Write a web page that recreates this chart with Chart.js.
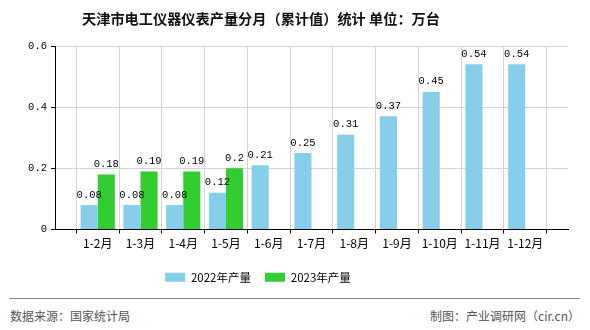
<!DOCTYPE html>
<html>
<head>
<meta charset="utf-8">
<script src="https://cdn.jsdelivr.net/npm/chart.js@4"></script>
<style>
  html, body { margin: 0; padding: 0; background: #fff; }
  #wrap { position: relative; width: 590px; height: 330px; overflow: hidden; }
  #title {
    position: absolute; left: 0; top: 8px; width: 522px; text-align: center;
    font: bold 14.2px "Noto Sans CJK SC", sans-serif; color: #111;
  }
  #chartBox { position: absolute; left: 0; top: 0; width: 590px; height: 295px; }
  #rule { position: absolute; left: 9px; top: 298px; width: 571px; height: 1px; background: #888; }
  .foot { position: absolute; top: 307px; font: 12px "Noto Sans CJK SC", sans-serif; color: #555; }
</style>
</head>
<body>
<div id="wrap">
  <div id="chartBox"><canvas id="chart" width="590" height="295"></canvas></div>
  <div id="title">天津市电工仪器仪表产量分月（累计值）统计 单位：万台</div>
  <div id="rule"></div>
  <div class="foot" style="left:10px">数据来源：国家统计局</div>
  <div class="foot" style="right:10px">制图：产业调研网（cir.cn）</div>
</div>
<script>
// categories (blank slots at both ends keep the axis layout of the original)
const months = ['', '1-2月', '1-3月', '1-4月', '1-5月', '1-6月', '1-7月', '1-8月', '1-9月', '1-10月', '1-11月', '1-12月', ''];
const output2022 = [null, 0.08, 0.08, 0.08, 0.12, 0.21, 0.25, 0.31, 0.37, 0.45, 0.54, 0.54, null];
const output2023 = [null, 0.18, 0.19, 0.19, 0.2, null, null, null, null, null, null, null, null];
const yTicks = [0, 0.2, 0.4, 0.6];

// value text above each bar
const valueLabels = {
  id: 'valueLabels',
  afterDatasetsDraw(chart) {
    const ctx = chart.ctx;
    ctx.save();
    ctx.font = '10.5px "Liberation Mono", monospace';
    ctx.fillStyle = '#000';
    ctx.textAlign = 'center';
    ctx.textBaseline = 'bottom';
    chart.data.datasets.forEach((ds, i) => {
      chart.getDatasetMeta(i).data.forEach((bar, j) => {
        const v = ds.data[j];
        if (v == null) return;
        ctx.fillText(String(v), bar.x, bar.y - 5);
      });
    });
    ctx.restore();
  }
};

// the legend in the original sits left of centre, under the title
const legendShift = {
  id: 'legendShift',
  afterLayout(chart) {
    chart.legend.right -= 52;
  }
};

new Chart(document.getElementById('chart'), {
  type: 'bar',
  data: {
    labels: months,
    datasets: [
      { label: '2022年产量', data: output2022, backgroundColor: '#87ceeb' },
      { label: '2023年产量', data: output2023, backgroundColor: '#33cc33' }
    ]
  },
  options: {
    responsive: false,
    animation: false,
    layout: { padding: { left: 0, right: 22, top: 46, bottom: 2 } },
    datasets: { bar: { categoryPercentage: 0.8, barPercentage: 1.0 } },
    scales: {
      x: {
        offset: false,
        grid: { color: '#d3d3d3', tickColor: '#000', tickLength: 4 },
        border: { color: '#000' },
        ticks: {
          autoSkip: false, maxRotation: 0, padding: 3, color: '#000',
          font: { family: '"Noto Sans CJK SC", sans-serif', size: 12 }
        },
        afterFit(scale) { scale.height = 28; }
      },
      y: {
        min: 0, max: 0.6,
        afterBuildTicks(scale) { scale.ticks = yTicks.map(v => ({ value: v })); },
        grid: { color: '#d3d3d3', tickColor: '#000', tickLength: 4 },
        border: { color: '#000' },
        ticks: {
          padding: 4, color: '#000',
          font: { family: '"Liberation Mono", monospace', size: 10.5 }
        },
        afterFit(scale) { scale.width = 55; }
      }
    },
    plugins: {
      legend: {
        position: 'bottom',
        labels: {
          boxWidth: 20, boxHeight: 9, padding: 14, color: '#000',
          font: { family: '"Noto Sans CJK SC", sans-serif', size: 11.5 }
        }
      },
      tooltip: { enabled: false }
    }
  },
  plugins: [valueLabels, legendShift]
});
</script>
</body>
</html>
